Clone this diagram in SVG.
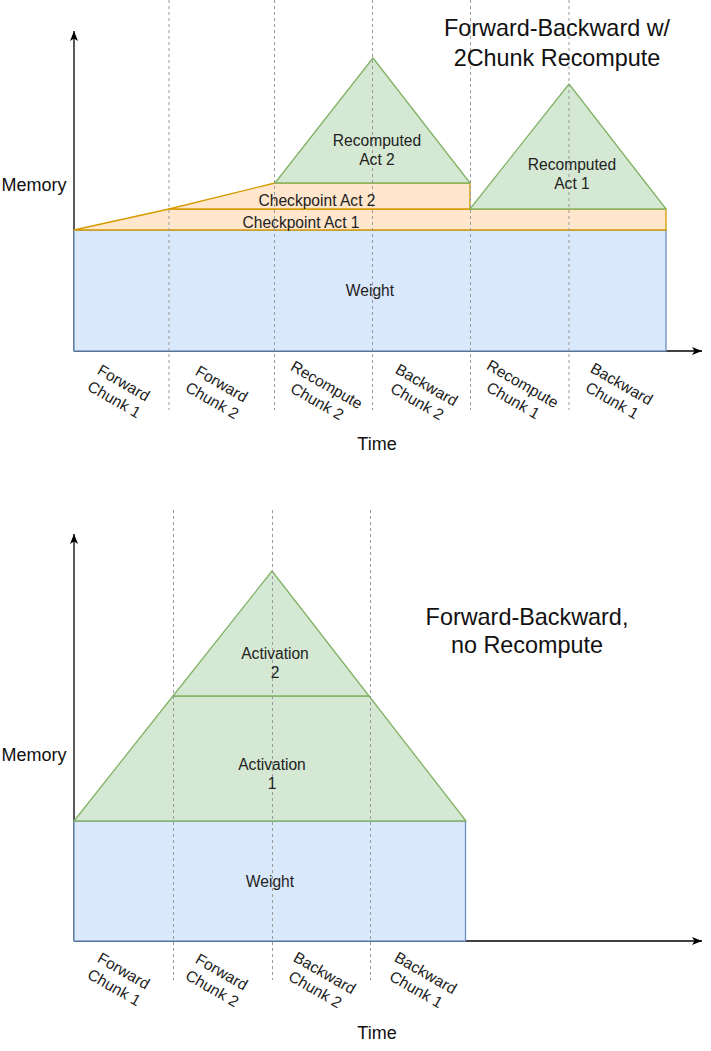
<svg xmlns="http://www.w3.org/2000/svg" width="711" height="1051" viewBox="0 0 711 1051">
<defs>
<marker id="arr" markerUnits="userSpaceOnUse" markerWidth="11" markerHeight="9" refX="10" refY="4.5" orient="auto">
<path d="M0,0.5 L10,4.5 L0,8.5 L2.5,4.5 Z" fill="#000"/>
</marker>
<style>
.blue{fill:#dae8fc;stroke:#6c8ebf;stroke-width:1.3}
.orange{fill:#ffe6cc;stroke:#d79b00;stroke-width:1.3;stroke-linejoin:round}
.green{fill:#d5e8d4;stroke:#82b366;stroke-width:1.3;stroke-linejoin:round}
.dash{stroke:#9a9a9a;stroke-width:1;stroke-dasharray:3 3;fill:none}
.axis{stroke:#000;stroke-width:1.3;fill:none;marker-end:url(#arr)}
text{font-family:"Liberation Sans",Arial,sans-serif}
.s{font-size:15.6px;fill:#222;text-anchor:middle}
.m{font-size:18px;fill:#111;text-anchor:middle}
.t{font-size:23.4px;fill:#111;text-anchor:middle}
</style>
</defs>

<g id="connectors">
<line class="axis" x1="74" y1="351" x2="74" y2="31"/>
<line class="axis" x1="74" y1="351" x2="702" y2="351"/>
<line class="axis" x1="74" y1="941" x2="74" y2="534"/>
<line class="axis" x1="74" y1="941" x2="702" y2="941"/>
</g>

<!-- Top chart -->
<g id="top-weight"><rect class="blue" x="74" y="230" width="592" height="121"/><text class="s" x="370" y="295.5">Weight</text></g>
<g id="top-ckpt1"><polygon class="orange" points="74,230 169,209 666,209 666,230"/></g>
<g id="top-ckpt2"><polygon class="orange" points="169,209 275,183 470,183 470,209"/></g>
<g id="top-recomp2"><polygon class="green" points="275,183 373,58 470,183"/></g>
<g id="top-recomp1"><polygon class="green" points="470,209 569,84 666,209"/></g>

<g id="top-dashes">
<line class="dash" x1="169" y1="0" x2="169" y2="410"/>
<line class="dash" x1="274.5" y1="0" x2="274.5" y2="410"/>
<line class="dash" x1="372.5" y1="0" x2="372.5" y2="410"/>
<line class="dash" x1="470.5" y1="0" x2="470.5" y2="410"/>
<line class="dash" x1="569" y1="0" x2="569" y2="410"/>
</g>

<g id="top-texts">
<text class="s" x="317" y="205.5">Checkpoint Act 2</text>
<text class="s" x="301" y="227.5">Checkpoint Act 1</text>
<text class="s" x="377" y="145.5">Recomputed</text>
<text class="s" x="377" y="165">Act 2</text>
<text class="s" x="572" y="169.5">Recomputed</text>
<text class="s" x="572" y="189">Act 1</text>
</g>

<g id="top-labels">
<text class="t" x="557" y="36">Forward-Backward w/</text>
<text class="t" x="557" y="66">2Chunk Recompute</text>
<text class="m" x="34" y="191">Memory</text>
<text class="m" x="377" y="450">Time</text>
<g transform="translate(119,391) rotate(30)"><text class="s" x="0" y="-4">Forward</text><text class="s" x="0" y="15">Chunk 1</text></g>
<g transform="translate(217,392) rotate(30)"><text class="s" x="0" y="-4">Forward</text><text class="s" x="0" y="15">Chunk 2</text></g>
<g transform="translate(322,393) rotate(30)"><text class="s" x="0" y="-4">Recompute</text><text class="s" x="0" y="15">Chunk 2</text></g>
<g transform="translate(422,393) rotate(30)"><text class="s" x="0" y="-4">Backward</text><text class="s" x="0" y="15">Chunk 2</text></g>
<g transform="translate(518,392) rotate(30)"><text class="s" x="0" y="-4">Recompute</text><text class="s" x="0" y="15">Chunk 1</text></g>
<g transform="translate(617,392) rotate(30)"><text class="s" x="0" y="-4">Backward</text><text class="s" x="0" y="15">Chunk 1</text></g>
</g>

<!-- Bottom chart -->
<g id="bot-weight"><rect class="blue" x="74" y="821" width="391.5" height="120"/><text class="s" x="270" y="886.5">Weight</text></g>
<g id="bot-act1"><polygon class="green" points="74,821 173,696 369,696 466,821"/></g>
<g id="bot-act2"><polygon class="green" points="173,696 272,571 369,696"/></g>

<g id="bot-dashes">
<line class="dash" x1="173.5" y1="510" x2="173.5" y2="980"/>
<line class="dash" x1="272.5" y1="510" x2="272.5" y2="980"/>
<line class="dash" x1="370.5" y1="510" x2="370.5" y2="980"/>
</g>

<g id="bot-texts">
<text class="s" x="275" y="658.5">Activation</text>
<text class="s" x="275" y="678">2</text>
<text class="s" x="272" y="769.5">Activation</text>
<text class="s" x="272" y="789">1</text>
</g>

<g id="bot-labels">
<text class="t" x="527" y="625">Forward-Backward,</text>
<text class="t" x="527" y="653">no Recompute</text>
<text class="m" x="34" y="761">Memory</text>
<text class="m" x="377" y="1039">Time</text>
<g transform="translate(119,979) rotate(30)"><text class="s" x="0" y="-4">Forward</text><text class="s" x="0" y="15">Chunk 1</text></g>
<g transform="translate(217,980) rotate(30)"><text class="s" x="0" y="-4">Forward</text><text class="s" x="0" y="15">Chunk 2</text></g>
<g transform="translate(320,981) rotate(30)"><text class="s" x="0" y="-4">Backward</text><text class="s" x="0" y="15">Chunk 2</text></g>
<g transform="translate(421,981) rotate(30)"><text class="s" x="0" y="-4">Backward</text><text class="s" x="0" y="15">Chunk 1</text></g>
</g>
</svg>
